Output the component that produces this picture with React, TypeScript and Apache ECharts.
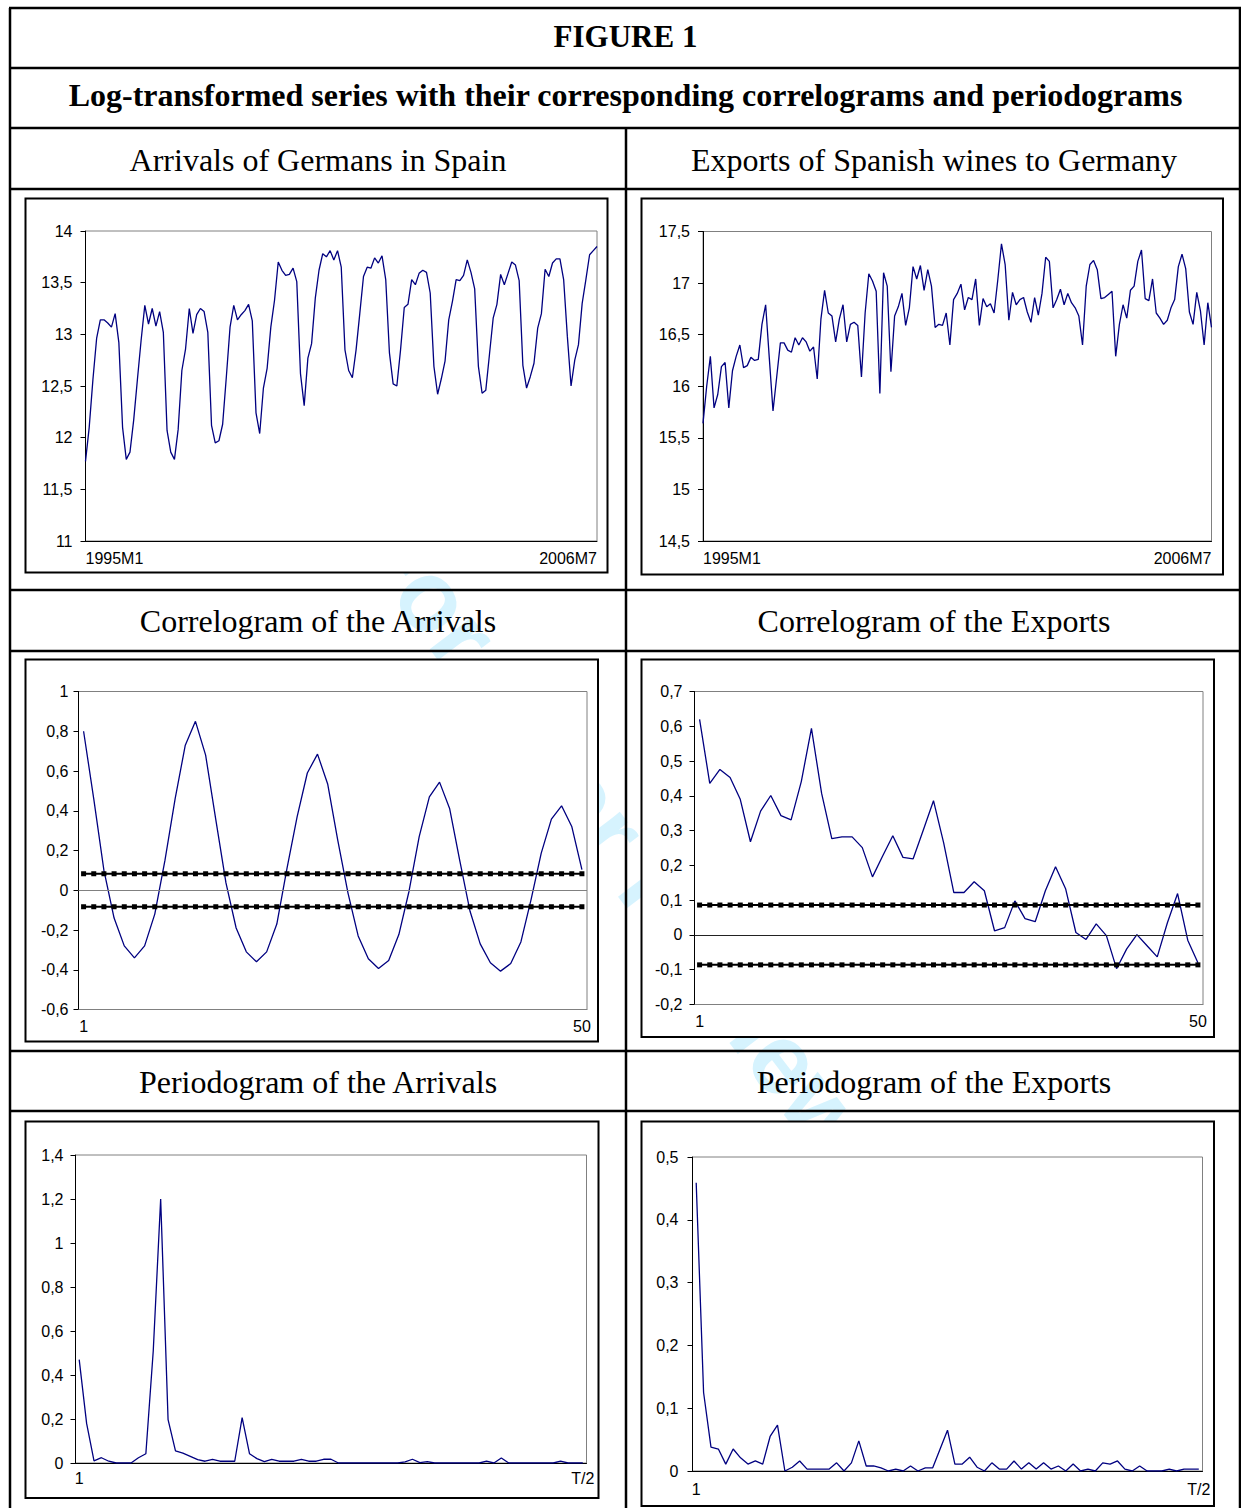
import React, { useEffect, useRef } from "react";
import * as echarts from "echarts";

const W = 1241;
const H = 1508;

const SANS = "'Liberation Sans', Arial, Helvetica, sans-serif";
const SERIF = "'Liberation Serif', 'Times New Roman', Times, serif";

// ---------- categories ----------
const months: string[] = [];
for (let y = 1995; y <= 2006; y++) {
  for (let m = 1; m <= 12; m++) {
    if (y === 2006 && m > 7) break;
    months.push(`${y}M${m}`);
  }
}
const lags: string[] = Array.from({ length: 50 }, (_, i) => String(i + 1));
const freqs: string[] = Array.from({ length: 69 }, (_, i) => (i === 68 ? "T/2" : String(i + 1)));

// ---------- series values ----------
const arrivals: number[] = [
  11.77, 12.10, 12.56, 12.96, 13.14, 13.14, 13.11, 13.07, 13.20, 12.92, 12.10, 11.79,
  11.86, 12.17, 12.56, 12.94, 13.28, 13.10, 13.25, 13.08, 13.22, 13.02, 12.07, 11.86,
  11.79, 12.08, 12.65, 12.86, 13.25, 13.01, 13.19, 13.25, 13.22, 13.02, 12.12, 11.95,
  11.97, 12.13, 12.59, 13.07, 13.28, 13.14, 13.19, 13.23, 13.29, 13.13, 12.24, 12.04,
  12.48, 12.67, 13.07, 13.33, 13.70, 13.62, 13.57, 13.58, 13.64, 13.51, 12.62, 12.31,
  12.77, 12.91, 13.35, 13.62, 13.78, 13.75, 13.81, 13.72, 13.81, 13.65, 12.85, 12.65,
  12.58, 12.85, 13.20, 13.56, 13.65, 13.64, 13.74, 13.69, 13.76, 13.53, 12.82, 12.52,
  12.50, 12.85, 13.26, 13.29, 13.53, 13.48, 13.59, 13.62, 13.60, 13.40, 12.69, 12.42,
  12.57, 12.74, 13.14, 13.32, 13.53, 13.52, 13.57, 13.72, 13.60, 13.44, 12.69, 12.43,
  12.46, 12.81, 13.16, 13.29, 13.58, 13.48, 13.59, 13.70, 13.67, 13.52, 12.70, 12.48,
  12.59, 12.72, 13.06, 13.20, 13.63, 13.56, 13.69, 13.73, 13.73, 13.53, 12.98, 12.50,
  12.75, 12.90, 13.30, 13.53, 13.77, 13.81, 13.85,
];

const wineExports: number[] = [
  15.64, 16.00, 16.29, 15.79, 15.92, 16.19, 16.23, 15.79, 16.15, 16.29, 16.40, 16.18,
  16.20, 16.28, 16.25, 16.26, 16.60, 16.79, 16.27, 15.76, 16.09, 16.42, 16.42, 16.35,
  16.33, 16.47, 16.40, 16.47, 16.43, 16.34, 16.38, 16.07, 16.65, 16.93, 16.71, 16.68,
  16.43, 16.65, 16.79, 16.43, 16.60, 16.62, 16.59, 16.09, 16.71, 17.09, 17.02, 16.92,
  15.93, 17.10, 16.97, 16.14, 16.68, 16.77, 16.90, 16.59, 16.76, 17.16, 17.04, 17.17,
  16.93, 17.13, 16.97, 16.57, 16.60, 16.59, 16.71, 16.40, 16.84, 16.90, 16.99, 16.74,
  16.86, 16.84, 17.04, 16.59, 16.85, 16.77, 16.80, 16.71, 17.03, 17.38, 17.18, 16.64,
  16.91, 16.79, 16.84, 16.86, 16.72, 16.62, 16.86, 16.69, 16.90, 17.25, 17.21, 16.76,
  16.84, 16.94, 16.79, 16.90, 16.81, 16.76, 16.68, 16.40, 16.97, 17.18, 17.22, 17.13,
  16.85, 16.86, 16.89, 16.92, 16.29, 16.60, 16.79, 16.66, 16.93, 16.97, 17.21, 17.32,
  16.85, 16.83, 17.04, 16.71, 16.66, 16.60, 16.64, 16.76, 16.84, 17.16, 17.28, 17.14,
  16.72, 16.60, 16.91, 16.73, 16.40, 16.81, 16.57,
];

const acfArrivals: number[] = [
  0.80, 0.46, 0.10, -0.14, -0.28, -0.34, -0.28, -0.12, 0.15, 0.46,
  0.73, 0.85, 0.68, 0.355, 0.037, -0.19, -0.31, -0.36, -0.31, -0.17,
  0.11, 0.37, 0.59, 0.685, 0.535, 0.25, -0.014, -0.23, -0.345, -0.394,
  -0.354, -0.223, -0.005, 0.27, 0.47, 0.544, 0.41, 0.146, -0.106, -0.27,
  -0.365, -0.407, -0.369, -0.26, -0.047, 0.187, 0.358, 0.425, 0.321, 0.104,
];
const acfArrivalsBand = 0.083;

const acfExports: number[] = [
  0.620, 0.436, 0.476, 0.453, 0.390, 0.268, 0.356, 0.401, 0.343, 0.331,
  0.441, 0.594, 0.407, 0.277, 0.282, 0.282, 0.251, 0.167, 0.227, 0.285,
  0.223, 0.219, 0.302, 0.386, 0.265, 0.122, 0.122, 0.153, 0.127, 0.012,
  0.021, 0.098, 0.047, 0.038, 0.127, 0.196, 0.132, 0.007, -0.013, 0.032,
  -0.002, -0.097, -0.040, 0.001, -0.031, -0.063, 0.035, 0.119, -0.015, -0.080,
];
const acfExportsBand = 0.086;

const periodArrivals: number[] = [
  0.47, 0.18, 0.01, 0.024, 0.008, 0, 0, 0, 0.024, 0.042,
  0.51, 1.20, 0.197, 0.055, 0.045, 0.03, 0.015, 0.008, 0.017, 0.008,
  0.008, 0.008, 0.206, 0.042, 0.02, 0.006, 0.017, 0.008, 0.008, 0.008,
  0.017, 0.008, 0.008, 0.017, 0.017, 0, 0, 0, 0, 0,
  0, 0, 0, 0, 0.005, 0.017, 0.002, 0.006, 0, 0,
  0, 0, 0, 0, 0, 0.008, 0, 0.023, 0, 0,
  0, 0, 0, 0, 0, 0.008, 0, 0, 0,
];

const periodExports: number[] = [
  0.459, 0.125, 0.038, 0.035, 0.011, 0.035, 0.021, 0.011, 0.016, 0.011,
  0.055, 0.073, 0, 0.006, 0.016, 0.003, 0.003, 0.003, 0.003, 0.013,
  0, 0.013, 0.048, 0.008, 0.008, 0.005, 0, 0.003, 0, 0.008,
  0, 0.005, 0.005, 0.035, 0.065, 0.011, 0.011, 0.022, 0.006, 0,
  0.013, 0.003, 0.003, 0.016, 0.003, 0.013, 0.003, 0.013, 0.003, 0.008,
  0, 0.011, 0, 0.003, 0, 0.013, 0.011, 0.016, 0.003, 0,
  0.008, 0, 0, 0, 0.003, 0, 0.003, 0.003, 0.003,
];

// ---------- texts ----------
const figureTitle = "FIGURE 1";
const figureSubtitle = "Log-transformed series with their corresponding correlograms and periodograms";
const cellTitles = [
  "Arrivals of Germans in Spain",
  "Exports of Spanish wines to Germany",
  "Correlogram of the Arrivals",
  "Correlogram of the Exports",
  "Periodogram of the Arrivals",
  "Periodogram of the Exports",
];

function fmtNum(v: number): string {
  const r = Math.round(v * 100) / 100;
  return String(r).replace(".", ",");
}

type Panel = {
  box: [number, number, number, number];
  grid: [number, number, number, number];
  cats: string[];
  data: number[];
  gap: boolean;
  min: number;
  max: number;
  step: number;
  xLine: string;
  yMargin: number;
  xMargin: number;
  edge?: boolean;
  band?: number;
  zeroColor?: string;
};

const panels: Panel[] = [
  { box: [25.5, 198.5, 582, 374], grid: [85.5, 231, 511.5, 310], cats: months, data: arrivals, gap: false, min: 11, max: 14, step: 0.5, xLine: "#000", yMargin: 13, xMargin: 9, edge: true },
  { box: [641.5, 198.5, 581.5, 376], grid: [703, 231.5, 508.5, 309.5], cats: months, data: wineExports, gap: false, min: 14.5, max: 17.5, step: 0.5, xLine: "#000", yMargin: 13, xMargin: 9, edge: true },
  { box: [25.5, 659.5, 572.5, 382], grid: [78.5, 691.5, 508.5, 318], cats: lags, data: acfArrivals, gap: true, min: -0.6, max: 1, step: 0.2, xLine: "#808080", yMargin: 10, xMargin: 9, band: acfArrivalsBand, zeroColor: "#808080" },
  { box: [641.5, 659.5, 572.5, 377.5], grid: [694.5, 691.5, 508.5, 313], cats: lags, data: acfExports, gap: true, min: -0.2, max: 0.7, step: 0.1, xLine: "#808080", yMargin: 12, xMargin: 9, band: acfExportsBand, zeroColor: "#222" },
  { box: [25.5, 1121.5, 573, 376.5], grid: [75.5, 1155, 511, 308], cats: freqs, data: periodArrivals, gap: true, min: 0, max: 1.4, step: 0.2, xLine: "#000", yMargin: 12, xMargin: 7 },
  { box: [641.5, 1121.5, 572.5, 384.5], grid: [692.5, 1157, 510, 314], cats: freqs, data: periodExports, gap: true, min: 0, max: 0.5, step: 0.1, xLine: "#000", yMargin: 14, xMargin: 10 },
];

function buildOption(): any {
  const grids: any[] = [];
  const xAxes: any[] = [];
  const yAxes: any[] = [];
  const series: any[] = [];
  const graphics: any[] = [];

  // watermark (behind chart boxes)
  graphics.push({
    type: "text",
    x: 615,
    y: 835,
    rotation: -0.92,
    z: -20,
    silent: true,
    style: {
      text: "For Peer Review",
      fill: "#d6f3fe",
      font: `bold 100px ${SANS}`,
      align: "center",
      verticalAlign: "middle",
    },
  });

  panels.forEach((p, i) => {
    const n = p.cats.length;
    graphics.push({
      type: "rect",
      z: -5,
      silent: true,
      shape: { x: p.box[0], y: p.box[1], width: p.box[2], height: p.box[3] },
      style: { fill: "#fff", stroke: "#000", lineWidth: 2 },
    });
    grids.push({
      left: p.grid[0],
      top: p.grid[1],
      width: p.grid[2],
      height: p.grid[3],
      show: true,
      borderColor: "#808080",
      borderWidth: 1,
      backgroundColor: "transparent",
      containLabel: false,
    });
    const axisLabel: any = {
      interval: (idx: number) => idx === 0 || idx === n - 1,
      color: "#000",
      fontSize: 16,
      fontFamily: SANS,
      margin: p.xMargin,
    };
    if (p.edge) {
      axisLabel.alignMinLabel = "left";
      axisLabel.alignMaxLabel = "right";
    }
    xAxes.push({
      type: "category",
      gridIndex: i,
      data: p.cats,
      boundaryGap: p.gap,
      axisLine: { show: true, onZero: false, lineStyle: { color: p.xLine, width: 1 } },
      axisTick: { show: false },
      splitLine: { show: false },
      axisLabel,
    });
    yAxes.push({
      type: "value",
      gridIndex: i,
      min: p.min,
      max: p.max,
      interval: p.step,
      axisLine: { show: true, lineStyle: { color: "#000", width: 1 } },
      axisTick: { show: true, inside: false, length: 5, lineStyle: { color: "#000", width: 1 } },
      splitLine: { show: false },
      axisLabel: { formatter: fmtNum, color: "#000", fontSize: 16, fontFamily: SANS, margin: p.yMargin },
    });
    const main: any = {
      type: "line",
      xAxisIndex: i,
      yAxisIndex: i,
      data: p.data,
      symbol: "none",
      lineStyle: { color: "#000080", width: 1.3 },
      z: 3,
      silent: true,
    };
    if (p.zeroColor) {
      main.markLine = {
        silent: true,
        symbol: "none",
        label: { show: false },
        lineStyle: { color: p.zeroColor, width: 1, type: "solid" },
        data: [{ yAxis: 0 }],
      };
    }
    series.push(main);
    if (p.band !== undefined) {
      const b = p.band;
      [b, -b].forEach((v) => {
        series.push({
          type: "line",
          xAxisIndex: i,
          yAxisIndex: i,
          data: p.cats.map(() => v),
          symbol: "rect",
          symbolSize: 5,
          showSymbol: true,
          showAllSymbol: true,
          lineStyle: { color: "#000", width: 2 },
          itemStyle: { color: "#000" },
          z: 4,
          silent: true,
        });
      });
    }
  });

  // table lines
  const hLines = [8, 68, 128, 189, 590, 651, 1051, 1111];
  hLines.forEach((y) => {
    graphics.push({
      type: "line",
      z: 10,
      silent: true,
      shape: { x1: 9, y1: y, x2: 1241, y2: y },
      style: { stroke: "#000", lineWidth: 2.5 },
    });
  });
  [
    [10, 8],
    [1240, 8],
    [626, 128],
  ].forEach(([x, y0]) => {
    graphics.push({
      type: "line",
      z: 10,
      silent: true,
      shape: { x1: x, y1: y0, x2: x, y2: H },
      style: { stroke: "#000", lineWidth: 2.5 },
    });
  });

  // header texts
  graphics.push({
    type: "text",
    x: 625.5,
    y: 36,
    z: 11,
    silent: true,
    style: { text: figureTitle, font: `bold 31px ${SERIF}`, fill: "#000", align: "center", verticalAlign: "middle" },
  });
  graphics.push({
    type: "text",
    x: 625.5,
    y: 95,
    z: 11,
    silent: true,
    style: { text: figureSubtitle, font: `bold 32px ${SERIF}`, fill: "#000", align: "center", verticalAlign: "middle" },
  });
  const rowY = [160, 621, 1082];
  cellTitles.forEach((t, k) => {
    const col = k % 2;
    const row = Math.floor(k / 2);
    graphics.push({
      type: "text",
      x: col === 0 ? 318 : 934,
      y: rowY[row],
      z: 11,
      silent: true,
      style: { text: t, font: `32px ${SERIF}`, fill: "#000", align: "center", verticalAlign: "middle" },
    });
  });

  return {
    animation: false,
    backgroundColor: "#fff",
    grid: grids,
    xAxis: xAxes,
    yAxis: yAxes,
    series,
    graphic: { elements: graphics },
  };
}

export default function App() {
  const ref = useRef<HTMLDivElement>(null);
  useEffect(() => {
    if (!ref.current) return;
    const chart = echarts.init(ref.current, null, { renderer: "svg", width: W, height: H });
    chart.setOption(buildOption());
    return () => {
      chart.dispose();
    };
  }, []);
  return (
    <div
      ref={ref}
      style={{ position: "absolute", left: 0, top: 0, width: W, height: H, background: "#fff" }}
    />
  );
}
